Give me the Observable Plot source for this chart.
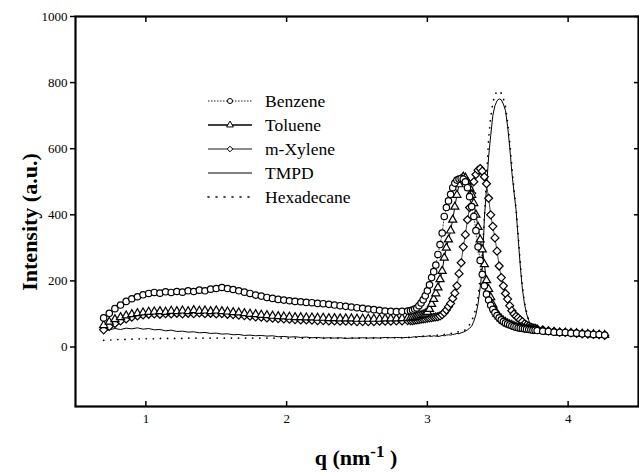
<!DOCTYPE html>
<html><head><meta charset="utf-8">
<script src="https://cdn.jsdelivr.net/npm/d3@7"></script>
<script src="https://cdn.jsdelivr.net/npm/@observablehq/plot@0.6"></script>
<style>
body{margin:0;background:#fff;}
#wrap{position:relative;width:639px;height:472px;}
#wrap svg text{font-family:"Liberation Serif","Times New Roman",Times,serif;}
</style></head><body><div id="wrap"></div>
<script>
// q values (nm^-1): baseline region, peak region, tail region
const qLow = [0.70,0.74,0.78,0.82,0.86,0.90,0.94,0.98,1.02,1.06,1.10,1.14,1.18,1.22,1.26,1.30,1.34,1.38,1.42,1.46,1.50,1.54,1.58,1.62,1.66,1.70,1.74,1.78,1.82,1.86,1.90,1.94,1.98,2.02,2.06,2.10,2.14,2.18,2.22,2.26,2.30,2.34,2.38,2.42,2.46,2.50,2.54,2.58,2.62,2.66,2.70,2.74,2.78,2.82,2.86];
const qPeak = [2.880,2.895,2.910,2.925,2.940,2.955,2.970,2.985,3.000,3.015,3.030,3.045,3.060,3.075,3.090,3.105,3.120,3.135,3.150,3.165,3.180,3.195,3.210,3.225,3.240,3.255,3.270,3.285,3.300,3.315,3.330,3.345,3.360,3.375,3.390,3.405,3.420,3.435,3.450,3.465,3.480,3.495,3.510,3.525,3.540,3.555,3.570,3.585,3.600,3.615,3.630,3.645,3.660,3.675,3.690,3.705,3.720,3.735,3.750,3.765,3.780];
const qTail = [3.82,3.86,3.90,3.94,3.98,4.02,4.06,4.10,4.14,4.18,4.22,4.26];

const seriesNames = ["Benzene","Toluene","m-Xylene","TMPD","Hexadecane"];

const benzene = [
  88,102,116,127,138,146,152,158,162,165,163,167,165,168,166,170,168,172,170,175,177,180,177,174,170,166,162,157,154,150,147,144,142,140,138,137,135,134,132,131,129,127,125,123,121,119,117,115,113,111,109,108,107,108,109,
  110,112,115,118,125,133,143,155,170,188,210,228,248,280,310,345,395,422,442,462,482,496,505,508,510,508,500,482,455,425,395,352,303,262,220,185,160,142,126,114,104,95,88,82,77,73,70,67,64,62,60,58,57,56,55,54,53,52,51,51,50,
  48,47,45,44,44,42,42,40,40,38,38,36];
const toluene = [
  66,76,84,90,95,99,102,104,106,107,108,106,109,108,110,108,111,109,110,108,110,108,107,105,104,102,100,99,97,96,94,93,92,91,90,90,89,89,88,88,87,87,86,86,86,85,85,85,85,85,86,86,86,87,88,
  88,89,90,92,94,96,98,101,106,115,130,145,162,180,205,230,270,300,325,352,385,424,460,492,508,515,512,500,482,460,435,400,363,325,295,250,202,175,150,128,112,100,92,85,79,75,71,68,66,63,61,59,58,57,56,55,54,53,52,51,50,
  48,46,45,43,43,42,41,40,39,38,37,36];
const mXylene = [
  52,62,71,79,85,90,94,97,99,100,99,101,100,102,100,102,101,103,101,102,100,101,99,98,96,95,93,91,90,88,87,86,85,84,83,82,82,81,80,80,79,79,78,78,78,77,77,77,77,78,78,78,79,79,80,
  80,80,81,82,83,84,85,86,87,88,89,90,91,92,94,98,104,112,122,132,147,163,185,222,255,303,340,385,422,465,500,522,535,540,532,515,494,450,400,365,330,290,245,210,185,162,145,125,110,100,93,88,82,77,70,66,63,60,58,57,55,
  52,49,47,45,44,43,41,40,39,38,37,35];
const tmpd = [
  48,52,56,53,57,55,58,54,56,52,53,49,51,47,48,45,46,43,44,41,42,39,40,37,38,35,36,34,35,33,34,31,32,30,31,29,30,28,29,27,28,27,28,26,27,27,28,27,28,27,29,28,29,28,29,
  29,30,31,30,32,31,33,32,33,34,32,34,33,32,33,35,34,36,37,36,38,39,41,40,43,45,48,52,57,63,78,98,130,180,235,390,480,575,640,700,730,745,751,748,735,715,668,605,530,470,415,330,245,175,130,100,80,67,60,56,52,
  49,46,44,43,42,41,40,39,38,38,37,36];
const hexadecane = [
  20,21,22,23,23,24,24,25,25,25,26,26,26,26,26,27,27,27,27,27,27,27,27,27,27,27,27,27,27,27,27,27,27,27,27,27,27,27,27,27,27,27,27,27,27,27,27,27,27,27,28,28,28,28,29,
  29,29,30,30,31,31,32,32,33,33,34,34,35,36,36,37,38,39,40,41,42,44,45,46,47,49,52,58,68,80,95,118,150,210,280,390,510,630,695,738,764,773,775,768,752,728,680,620,548,478,420,340,255,185,135,105,82,68,60,55,52,
  49,46,44,43,42,41,40,39,38,37,36,35];

const xTicks = [1,2,3,4];
const yTicks = [0,200,400,600,800,1000];

const q = [...qLow, ...qPeak, ...qTail];
const rows = vals => q.map((x,i)=>({q:x, I:vals[i]}));
const B = rows(benzene), T = rows(toluene), X = rows(mXylene), M = rows(tmpd), H = rows(hexadecane);

const serif = "Liberation Serif, Times New Roman, Times, serif";
const fmt = d3.format("d");
const dotOpts = {x:"q", y:"I", fill:"white", stroke:"black", strokeWidth:1.2};
const plot = Plot.plot({
  width: 639, height: 472,
  marginLeft: 75, marginRight: 1, marginTop: 16, marginBottom: 66,
  x: {domain:[0.5,4.5]},
  y: {domain:[-180,1000]},
  style: {fontFamily: serif, fontSize: "13px", background: "white", color: "black"},
  marks: [
    Plot.line(H, {x:"q", y:"I", stroke:"black", strokeWidth:1.7, strokeDasharray:"0.1,7", strokeLinecap:"round"}),
    Plot.line(M, {x:"q", y:"I", stroke:"black", strokeWidth:1}),
    Plot.line(X, {x:"q", y:"I", stroke:"#444", strokeWidth:1}),
    Plot.dot(X, {...dotOpts, symbol:"diamond2", r:3.6}),
    Plot.line(T, {x:"q", y:"I", stroke:"black", strokeWidth:1}),
    Plot.dot(T, {...dotOpts, symbol:"triangle", r:3.0}),
    Plot.line(B, {x:"q", y:"I", stroke:"black", strokeWidth:0.8, strokeDasharray:"1,2"}),
    Plot.dot(B, {...dotOpts, symbol:"circle", r:3.2}),
    Plot.frame({stroke:"black", strokeWidth:2.2}),
    Plot.axisY({ticks:yTicks, tickSize:5, tickPadding:3, tickFormat:fmt, label:null, strokeWidth:1.5}),
    Plot.axisY({anchor:"right", ticks:yTicks, tickSize:5, dx:-5, tickFormat:()=>"", label:null, strokeWidth:1.5}),
    Plot.axisX({ticks:xTicks, tickSize:5, dy:-5, tickFormat:()=>"", label:null, strokeWidth:1.5}),
    Plot.axisX({ticks:xTicks, tickSize:0, tickPadding:7, tickFormat:fmt, label:null}),
    Plot.axisX({anchor:"top", ticks:xTicks, tickSize:5, dy:5, tickFormat:()=>"", label:null, strokeWidth:1.5})
  ]
});
document.getElementById("wrap").appendChild(plot);

const svg = d3.select(plot);
// axis titles
svg.append("text")
  .attr("transform","translate(29,222) rotate(-90)")
  .attr("text-anchor","middle").attr("dominant-baseline","central")
  .attr("font-size",22).attr("font-weight","bold")
  .text("Intensity (a.u.)");
const xl = svg.append("text")
  .attr("x",356).attr("y",465).attr("text-anchor","middle")
  .attr("font-size",22).attr("font-weight","bold");
xl.append("tspan").text("q (nm");
xl.append("tspan").attr("dy",-8).attr("font-size",17).text("-1");
xl.append("tspan").attr("dy",8).text(" )");

// legend
const legendY = [101,125,149,173,197];
const lg = svg.append("g").attr("text-anchor","start");
const styles = [
  {dash:"1.5,1.5", w:0.9, c:"black", sym:d3.symbolCircle},
  {dash:null, w:1.6, c:"black", sym:d3.symbolTriangle},
  {dash:null, w:1.3, c:"#666", sym:d3.symbolDiamond2},
  {dash:null, w:1, c:"black", sym:null},
  {dash:"1,7", w:1.6, c:"black", sym:null}
];
seriesNames.forEach((name,i)=>{
  const y = legendY[i], s = styles[i];
  const ln = lg.append("line").attr("x1",208).attr("x2",252).attr("y1",y).attr("y2",y)
    .attr("stroke",s.c).attr("stroke-width",s.w);
  if (s.dash) ln.attr("stroke-dasharray",s.dash).attr("stroke-linecap", i===4?"round":"butt");
  if (s.sym) lg.append("path").attr("d",d3.symbol(s.sym,20)()).attr("transform",`translate(230,${y})`)
    .attr("fill","white").attr("stroke","black").attr("stroke-width",1);
  lg.append("text").attr("x",265).attr("y",y).attr("dominant-baseline","central")
    .attr("text-anchor","start").attr("font-size",17.5).text(name);
});
</script></body></html>
